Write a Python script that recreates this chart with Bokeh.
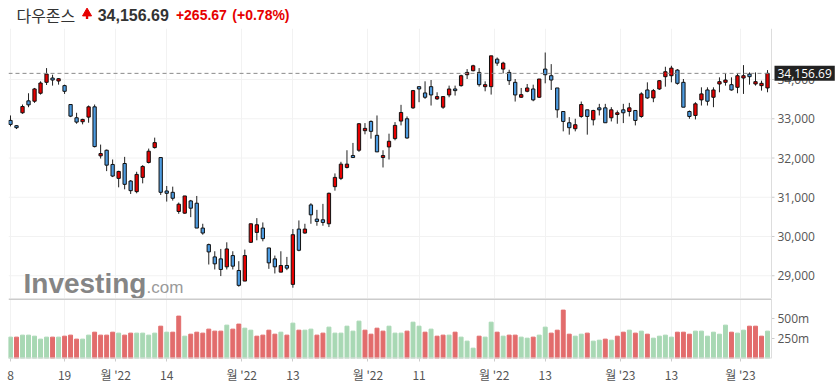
from bokeh.plotting import figure
from bokeh.layouts import column
from bokeh.models import Range1d, FixedTicker, Span, Label, ColumnDataSource
from bokeh.embed import file_html
from bokeh.resources import INLINE
from bokeh.core.properties import value

# ---------------- data ----------------
title_name = "다우존스"
last_price = 34156.69
change = 265.67
change_pct = 0.78

opens = [32958, 32823, 33152, 33456, 33447, 33650, 33928, 34038, 33962, 33844,
         33363, 33025, 32924, 33042, 33304, 32055, 32198, 31835, 31481, 31860,
         31413, 31143, 31506, 31886, 32266, 32012, 31160, 31126, 30637, 30595,
         30907, 30848, 30215, 29793, 29480, 29430, 29227, 29514, 29134, 28864,
         29852, 30104, 30215, 29708, 29430, 29092, 29261, 28780, 30189, 30088,
         30805, 30443, 30426, 30324, 31270, 31481, 31759, 32063, 32198, 32696,
         32932, 32578, 32012, 32282, 32494, 32941, 33000, 33278, 33818, 33658,
         33818, 33506, 33295, 33607, 33759, 33844, 34122, 34224, 34181, 33818,
         33818, 34519, 34266, 34181, 33928, 33548, 33700, 33759, 33548, 34266,
         34097, 33785, 33185, 32898, 32746, 33059, 33228, 32974, 33278, 33278,
         33025, 33109, 33228, 33185, 33211, 33059, 33734, 33531, 33759, 34072,
         34097, 34240, 33928, 33185, 33084, 33481, 33734, 33548, 33886, 33928,
         33869, 33801, 34038, 34139, 33886, 33844, 33785]
highs = [33084, 32840, 33363, 33650, 33785, 33954, 34291, 34122, 34038, 33869,
         33363, 33152, 33000, 33338, 33363, 32342, 32215, 31962, 31675, 32029,
         31438, 31649, 31818, 32240, 32519, 32012, 31287, 31270, 30865, 31033,
         30932, 31033, 30324, 29818, 29624, 29683, 29852, 29624, 29371, 29666,
         30324, 30468, 30358, 29708, 29514, 29624, 29480, 30189, 30409, 30324,
         30848, 30679, 30831, 31118, 31607, 31903, 32198, 32384, 32890, 32890,
         32958, 33084, 32198, 32620, 32915, 33355, 33059, 33734, 33818, 33954,
         33987, 33675, 33565, 33844, 33844, 34122, 34266, 34376, 34291, 33954,
         34603, 34561, 34452, 34249, 34013, 33785, 33886, 33869, 34013, 34688,
         34392, 33785, 33185, 33042, 33000, 33439, 33228, 33228, 33380, 33380,
         33295, 33211, 33380, 33405, 33211, 33675, 33928, 33759, 33987, 34325,
         34350, 34266, 34013, 33211, 33422, 33801, 33801, 33801, 34055, 34156,
         34055, 34156, 34367, 34181, 34181, 33970, 34240]
lows = [32806, 32738, 33126, 33295, 33405, 33616, 33861, 33844, 33869, 33633,
        33042, 32873, 32857, 32899, 32270, 31987, 31666, 31514, 31253, 31202,
        31084, 31101, 31354, 31861, 32240, 31059, 30890, 30915, 30578, 30578,
        30493, 30215, 30046, 29286, 29160, 28991, 29160, 29160, 28721, 28864,
        29835, 29903, 29877, 29176, 29058, 29092, 29143, 28695, 29624, 30071,
        30324, 30274, 30274, 30240, 31168, 31438, 31734, 32012, 32156, 32603,
        32493, 32156, 31759, 31962, 32451, 32831, 32493, 33253, 33422, 33506,
        33337, 33481, 33253, 33548, 33591, 33818, 34013, 34207, 33818, 33700,
        33616, 34350, 34156, 33861, 33439, 33532, 33675, 33447, 33532, 33903,
        33734, 33025, 32679, 32595, 32679, 33025, 32595, 32831, 33084, 32898,
        32932, 32873, 32890, 33059, 32831, 33025, 33506, 33422, 33734, 33818,
        33928, 33869, 33295, 33000, 32983, 33337, 33337, 33295, 33675, 33844,
        33717, 33650, 33633, 33869, 33844, 33717, 33675]
closes = [32856, 32772, 33312, 33354, 33760, 33911, 34139, 33987, 34021, 33700,
          33067, 32915, 32983, 33304, 32291, 32114, 31818, 31540, 31658, 31329,
          31168, 31582, 31785, 32173, 32392, 31126, 31101, 30974, 30823, 31033,
          30721, 30215, 30088, 29607, 29303, 29160, 29683, 29244, 28755, 29514,
          30324, 30300, 29945, 29328, 29227, 29261, 29193, 30046, 29649, 30189,
          30552, 30384, 30358, 31101, 31506, 31844, 31844, 32012, 32873, 32755,
          32679, 32156, 32063, 32426, 32831, 33160, 32510, 33717, 33759, 33548,
          33607, 33565, 33565, 33759, 33717, 34097, 34181, 34350, 33869, 33869,
          34603, 34418, 34418, 33970, 33607, 33615, 33785, 33481, 34013, 34122,
          33987, 33228, 32932, 32772, 32848, 33363, 33059, 33211, 33228, 32898,
          33228, 33152, 33152, 33278, 32957, 33633, 33531, 33717, 33970, 34198,
          34291, 33903, 33295, 33059, 33380, 33633, 33447, 33734, 33945, 33987,
          33734, 34097, 34097, 34072, 33945, 33903, 34156.69]
volumes_m = [267, 267, 292, 292, 279, 242, 267, 267, 267, 279, 292, 242, 242, 292, 329, 292, 292, 329, 317, 292, 317, 317, 317, 292, 317,
             404, 329, 329, 530, 279, 304, 329, 317, 367, 342, 342, 417, 367, 430, 379, 354, 279, 292, 354, 304, 329, 292, 442, 354, 354, 367,
             292, 317, 392, 317, 317, 404, 342, 467, 354, 304, 379, 342, 404, 317, 317, 342, 454, 404, 329, 367, 279, 292, 292, 329, 267,
             217, 129, 279, 267, 454, 329, 279, 292, 292, 267, 254, 267, 292, 392, 317, 354, 605, 304, 279, 304, 317, 217, 229, 242, 229,
             279, 329, 354, 317, 342, 304, 254, 279, 292, 267, 329, 329, 304, 342, 342, 279, 329, 304, 417, 329, 317, 354, 404, 404, 279, 342]
# 1 = higher close than previous session (green), 0 = lower (red)
volume_up = [1, 0, 1, 1, 1, 1, 1, 0, 1, 0, 0, 0, 1, 1, 0, 0, 0, 0, 1, 0, 0, 1, 1, 1, 1,
             0, 1, 0, 0, 1, 0, 0, 0, 0, 0, 0, 1, 0, 0, 1, 1, 0, 0, 0, 0, 1, 0, 1, 0, 1, 1,
             0, 0, 1, 1, 1, 1, 1, 1, 0, 0, 0, 0, 1, 1, 1, 0, 1, 1, 0, 1, 0, 0, 1, 0, 1,
             1, 1, 0, 1, 1, 0, 1, 0, 0, 1, 1, 0, 1, 1, 0, 0, 0, 0, 1, 1, 0, 1, 1, 0, 1,
             0, 0, 1, 0, 1, 0, 1, 1, 1, 1, 0, 0, 0, 1, 1, 1, 1, 1, 1, 0, 1, 1, 0, 0, 0, 1]

x_tick_pos = [0, 9, 17.5, 26, 38.5, 47, 59.5, 68, 80.5, 89, 101.5, 110, 121.5]
x_tick_labels = ["8", "19", "월 '22", "14", "월 '22", "13", "월 '22", "11", "월 '22", "13", "월 '23", "13", "월 '23"]
price_ticks = [29000, 30000, 31000, 32000, 33000, 34000]
volume_ticks = [250, 500]
volume_tick_labels = ["250m", "500m"]

# ---------------- layout ----------------
W = 836
LEFT = 8
RED = "#e60000"
GRID = "#f2f2f2"
AXIS = "#dddddd"
LABEL_COLOR = "#555555"

idx = list(range(len(opens)))
X_START, AXIS_X, X_END = -0.333, 126.66, 137.48
Y_LO, Y_HI = 28420, 35300
PANE_H = 270
x_range = Range1d(X_START, X_END)

# header
h = figure(width=W, height=28, x_range=Range1d(0, W), y_range=Range1d(0, 28),
           output_backend="svg", toolbar_location=None, x_axis_location=None,
           y_axis_location=None, min_border=0, outline_line_color=None)
h.grid.visible = False
h.text(x=[8], y=[14], text=[title_name], text_font=value("Noto Sans CJK KR"),
       text_font_size="16px", text_color="#333333", text_baseline="middle")
h.scatter(x=[79.3], y=[15.2], marker="triangle", size=9, fill_color=RED, line_color=RED)
h.quad(left=[78.1], right=[80.5], top=[13.6], bottom=[9.4], fill_color=RED, line_color=None)
h.text(x=[90], y=[14], text=[f"{last_price:,.2f}"], text_font=value("Liberation Sans"),
       text_font_size="16px", text_font_style="bold", text_color="#333333", text_baseline="middle")
h.text(x=[169], y=[14], text=[f"+{change:,.2f}"], text_font=value("Liberation Sans"),
       text_font_size="14px", text_font_style="bold", text_color=RED, text_baseline="middle")
h.text(x=[226], y=[14], text=[f"(+{change_pct:.2f}%)"], text_font=value("Liberation Sans"),
       text_font_size="14px", text_font_style="bold", text_color=RED, text_baseline="middle")

# price pane
p = figure(width=W, height=PANE_H, x_range=x_range, y_range=Range1d(Y_LO, Y_HI),
           output_backend="svg", toolbar_location=None, x_axis_location=None,
           y_axis_location=None, min_border_left=LEFT, min_border_right=0,
           min_border_top=0, min_border_bottom=0, outline_line_color=None)
p.ygrid.grid_line_color = None
p.xgrid.ticker = FixedTicker(ticks=x_tick_pos)
p.xgrid.grid_line_color = GRID

# horizontal grid lines, stopping at the right axis line
p.segment(x0=[X_START] * len(price_ticks), x1=[AXIS_X] * len(price_ticks),
          y0=price_ticks, y1=price_ticks, line_color=GRID, line_width=1)

# watermark (kept fully inside the price pane)
px_to_price = (Y_HI - Y_LO) / PANE_H
p.text(x=[X_START], y=[Y_LO + 15 * px_to_price], text=["Investing"], x_offset=15,
       text_font=value("Liberation Sans"), text_font_style="bold", text_font_size="28px",
       text_color="#858585", text_baseline="middle", text_align="left")
p.text(x=[X_START], y=[Y_LO + 11 * px_to_price], text=[".com"], x_offset=138,
       text_font=value("Liberation Sans"), text_font_size="17px",
       text_color="#9a9a9a", text_baseline="middle", text_align="left")

colors = ["#e60000" if c >= o else "#4d9be0" for o, c in zip(opens, closes)]
src = ColumnDataSource(dict(x=idx, h=highs, l=lows,
                            top=[max(o, c) for o, c in zip(opens, closes)],
                            bottom=[min(o, c) for o, c in zip(opens, closes)],
                            color=colors))
p.segment(x0="x", y0="l", x1="x", y1="h", source=src, line_color="#222222", line_width=1)
p.vbar(x="x", width=0.55, top="top", bottom="bottom", fill_color="color",
       line_color="#111111", line_width=1, source=src)

# last price dashed line
p.segment(x0=[X_START], x1=[AXIS_X], y0=[last_price], y1=[last_price],
          line_color="#8a8a8a", line_dash="4 3", line_width=1)

# right price axis (drawn by hand so the price tag can sit over it)
p.add_layout(Span(location=AXIS_X, dimension="height", line_color=AXIS, line_width=1))
p.ray(x=[AXIS_X] * len(price_ticks), y=price_ticks, length=3, length_units="screen",
      angle=0, line_color="#cccccc")
p.text(x=[AXIS_X] * len(price_ticks), y=price_ticks, text=[f"{t:,}" for t in price_ticks],
       x_offset=6, text_font=value("Open Sans"), text_font_size="12px",
       text_color=LABEL_COLOR, text_baseline="middle", text_align="left")
p.add_layout(Label(x=766, y=last_price, x_units="screen", y_units="data",
                   text=f"{last_price:,.2f}", text_font="Open Sans", text_font_size="12px",
                   text_color="white", text_baseline="middle",
                   background_fill_color="#222222", padding=3))

# volume pane
v = figure(width=W, height=89, x_range=x_range, y_range=Range1d(0, 750),
           output_backend="svg", toolbar_location=None, y_axis_location=None,
           min_border_left=LEFT, min_border_right=0, min_border_top=0,
           min_border_bottom=29, outline_line_color=None)
vcol = ["#a8d8b4" if u else "#e26c6c" for u in volume_up]
v.vbar(x=idx, top=volumes_m, width=0.65, color=vcol)
v.xaxis.ticker = FixedTicker(ticks=x_tick_pos)
v.xaxis.major_label_overrides = dict(zip(x_tick_pos, x_tick_labels))
v.xaxis.major_label_text_font = "Noto Sans CJK KR"
v.xaxis.major_label_text_font_size = "12px"
v.xaxis.major_label_text_color = LABEL_COLOR
v.xaxis.axis_line_color = None
v.xaxis.major_tick_line_color = "#cccccc"
v.xaxis.major_tick_out = 3
v.xaxis.major_tick_in = 0
v.xaxis.minor_tick_line_color = None
v.xaxis.major_label_standoff = 4
v.ygrid.grid_line_color = None
v.xgrid.ticker = FixedTicker(ticks=x_tick_pos)
v.xgrid.grid_line_color = GRID
# separator and bottom axis line
v.segment(x0=[X_START], x1=[AXIS_X], y0=[750], y1=[750], line_color="#cccccc", line_width=3)
v.segment(x0=[X_START], x1=[AXIS_X], y0=[0], y1=[0], line_color=AXIS, line_width=2)
v.add_layout(Span(location=AXIS_X, dimension="height", line_color=AXIS, line_width=1))
v.ray(x=[AXIS_X] * len(volume_ticks), y=volume_ticks, length=3, length_units="screen",
      angle=0, line_color="#cccccc")
v.text(x=[AXIS_X] * len(volume_ticks), y=volume_ticks, text=volume_tick_labels,
       x_offset=6, text_font=value("Open Sans"), text_font_size="12px",
       text_color=LABEL_COLOR, text_baseline="middle", text_align="left")

layout = column(h, p, v, spacing=0)
open("out.html", "w").write(file_html(layout, INLINE))
